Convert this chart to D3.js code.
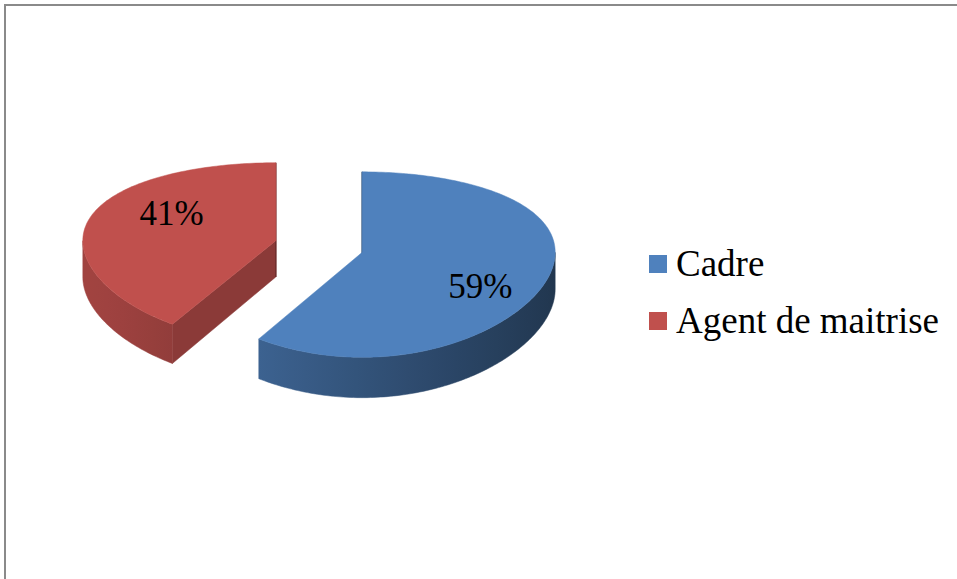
<!DOCTYPE html>
<html>
<head>
<meta charset="utf-8">
<script src="https://cdn.jsdelivr.net/npm/d3@7"></script>
<style>
  html, body { margin: 0; padding: 0; background: #fff; }
  svg { display: block; }
  .serif { font-family: "Liberation Serif", "Times New Roman", Tinos, "DejaVu Serif", serif; }
</style>
</head>
<body>
<svg id="chart" width="957" height="579"></svg>
<script>
// Staff breakdown by category (percent)
const categories = ["Cadre", "Agent de maitrise"];
const values = [59, 41];
const colors = ["#4F81BD", "#C0504D"];

const W = 957, H = 579;
const svg = d3.select("#chart");
const defs = svg.append("defs");

// Chart frame
svg.append("path")
  .attr("d", `M5,${H + 5}V5H${W + 5}`)
  .attr("fill", "none")
  .attr("stroke", "#8a8a8a")
  .attr("stroke-width", 2);

// 3D pie view: radius-unit model space, x right, y up, z towards the viewer
const view = {
  ox: 319, oy: 246.5,   // screen position of the pie centre
  kx: 193,              // horizontal pixels per radius
  tilt: 27.5 * Math.PI / 180,
  dist: 6.8,            // camera distance (radius units)
  focal: 1319,
  height: 0.215,        // slab thickness
  explode: 0.233        // slice offset along its mid angle
};
const sinT = Math.sin(view.tilt), cosT = Math.cos(view.tilt);

function project(x, y, z) {
  const yc = y * cosT - z * sinT;
  const depth = view.dist - (y * sinT + z * cosT);
  return [view.ox + view.kx * x, view.oy - view.focal * yc / depth];
}

const pie = d3.pie().sort(null).startAngle(0).endAngle(2 * Math.PI);
const arcs = pie(values).map((a, i) => {
  const mid = (a.startAngle + a.endAngle) / 2;
  return {
    ...a, i, mid,
    dx: view.explode * Math.sin(mid),
    dz: -view.explode * Math.cos(mid)
  };
});

// point on a slice: angle t (clockwise from 12 o'clock), radius r, level y
function pt(a, t, r, y) {
  return project(a.dx + r * Math.sin(t), y, a.dz - r * Math.cos(t));
}
function rim(a, t0, t1, y) {
  const n = Math.max(2, Math.ceil(Math.abs(t1 - t0) / (Math.PI / 180)));
  return d3.range(n + 1).map(k => pt(a, t0 + (t1 - t0) * k / n, 1, y));
}
const poly = d3.line();
const closed = pts => poly(pts) + "Z";

// shading of the curved side by its outward normal angle
const sideDark = psi => 1.5 - Math.cos(psi - 255 * Math.PI / 180);

const g = svg.append("g");
const h = -view.height;

// back slices first
arcs.slice().sort((p, q) => p.dz - q.dz).forEach(a => {
  const base = d3.color(colors[a.i]);
  const sg = g.append("g").attr("class", "slice");

  // flat cut faces
  const faces = [];
  if (Math.sin(a.startAngle) <= 1e-6) faces.push({ t: a.startAngle, edge: Math.abs(Math.sin(a.startAngle)) < 1e-6 });
  if (Math.sin(a.endAngle) >= -1e-6) faces.push({ t: a.endAngle, edge: Math.abs(Math.sin(a.endAngle)) < 1e-6 });
  faces.forEach(f => {
    const pts = [pt(a, 0, 0, 0), pt(a, f.t, 1, 0), pt(a, f.t, 1, h), pt(a, 0, 0, h)];
    const c = base.darker(0.9).formatHex();
    sg.append("path")
      .attr("d", closed(pts))
      .attr("fill", c)
      .attr("stroke", f.edge ? base.darker(1.6).formatHex() : c)
      .attr("stroke-width", f.edge ? 1.5 : 0.5);
  });

  // curved outer side, front half only
  const s0 = Math.max(a.startAngle, Math.PI / 2);
  const s1 = Math.min(a.endAngle, 3 * Math.PI / 2);
  if (s1 > s0) {
    const top = rim(a, s0, s1, 0);
    const bot = rim(a, s0, s1, h).reverse();
    const x1 = pt(a, s0, 1, 0)[0], x2 = pt(a, s1, 1, 0)[0];
    const gid = "side" + a.i;
    const grad = defs.append("linearGradient")
      .attr("id", gid)
      .attr("gradientUnits", "userSpaceOnUse")
      .attr("x1", x1).attr("x2", x2).attr("y1", 0).attr("y2", 0);
    d3.range(9).forEach(k => {
      const t = s0 + (s1 - s0) * k / 8;
      const x = pt(a, t, 1, 0)[0];
      grad.append("stop")
        .attr("offset", (x - x1) / (x2 - x1))
        .attr("stop-color", base.darker(sideDark(t)).formatHex());
    });
    sg.append("path")
      .attr("d", closed(top.concat(bot)))
      .attr("fill", `url(#${gid})`)
      .attr("stroke", `url(#${gid})`)
      .attr("stroke-width", 0.5);
  }

  // top face
  const topPts = [pt(a, 0, 0, 0)].concat(rim(a, a.startAngle, a.endAngle, 0));
  sg.append("path")
    .attr("d", closed(topPts))
    .attr("fill", base.formatHex())
    .attr("stroke", base.formatHex())
    .attr("stroke-width", 0.5);
});

// percentage labels on the top faces
const total = d3.sum(values);
const labelFont = 35;
const labelNudgeX = 7;
g.selectAll("text.pct")
  .data(arcs)
  .join("text")
  .attr("class", "pct serif")
  .each(function (a) {
    const p = project(a.dx + 0.6 * Math.sin(a.mid), 0, a.dz - 1.22 * Math.cos(a.mid));
    d3.select(this).attr("x", p[0] + labelNudgeX).attr("y", p[1] + labelFont * 0.38);
  })
  .attr("text-anchor", "middle")
  .attr("font-size", labelFont)
  .attr("fill", "#000")
  .text(a => Math.round(a.value / total * 100) + "%");

// legend
const legend = svg.append("g").attr("transform", "translate(649,255)");
const rowGap = 57;
const items = legend.selectAll("g")
  .data(categories)
  .join("g")
  .attr("transform", (d, i) => `translate(0,${i * rowGap})`);
items.append("rect")
  .attr("width", 18).attr("height", 18)
  .attr("fill", (d, i) => colors[i]);
items.append("text")
  .attr("class", "serif")
  .attr("x", 27).attr("y", 21)
  .attr("font-size", 37)
  .attr("fill", "#000")
  .text(d => d);
</script>
</body>
</html>
